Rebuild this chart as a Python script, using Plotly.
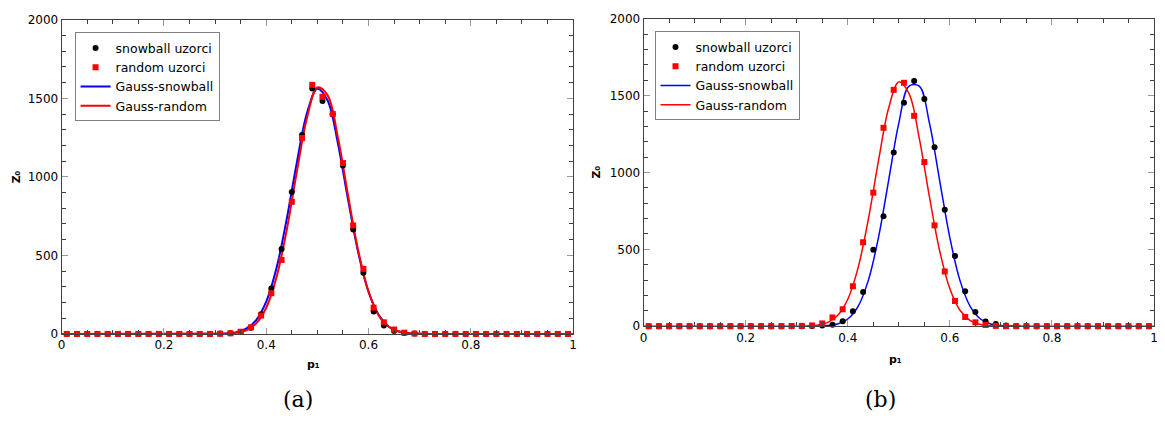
import plotly.graph_objects as go

# ---------------- data ----------------
p1 = [0.01, 0.03, 0.05, 0.07, 0.09, 0.11, 0.13, 0.15, 0.17, 0.19,
      0.21, 0.23, 0.25, 0.27, 0.29, 0.31, 0.33, 0.35, 0.37, 0.39,
      0.41, 0.43, 0.45, 0.47, 0.49, 0.51, 0.53, 0.55, 0.57, 0.59,
      0.61, 0.63, 0.65, 0.67, 0.69, 0.71, 0.73, 0.75, 0.77, 0.79,
      0.81, 0.83, 0.85, 0.87, 0.89, 0.91, 0.93, 0.95, 0.97, 0.99]

snow_a = [0, 0, 0, 0, 0, 0, 0, 0, 0, 0,
          0, 0, 0, 0, 0, 2, 5, 12, 39, 125,
          290, 541, 903, 1267, 1562, 1483, 1398, 1073, 665, 389,
          142, 54, 18, 6, 2, 0, 0, 0, 0, 0,
          0, 0, 0, 0, 0, 0, 0, 0, 0, 0]
rand_a = [0, 0, 0, 0, 0, 0, 0, 0, 0, 0,
          0, 0, 0, 0, 0, 1, 4, 14, 42, 117,
          259, 471, 841, 1247, 1586, 1510, 1401, 1088, 691, 414,
          167, 74, 28, 8, 2, 0, 0, 0, 0, 0,
          0, 0, 0, 0, 0, 0, 0, 0, 0, 0]
snow_b = [0, 0, 0, 0, 0, 0, 0, 0, 0, 0,
          0, 0, 0, 0, 0, 0, 2, 4, 10, 32,
          97, 222, 498, 715, 1131, 1454, 1595, 1479, 1165, 757,
          456, 228, 93, 31, 14, 4, 1, 0, 0, 0,
          0, 0, 0, 0, 0, 0, 0, 0, 0, 0]
rand_b = [0, 0, 0, 0, 0, 0, 0, 0, 0, 0,
          0, 0, 0, 0, 1, 2, 5, 18, 57, 110,
          260, 546, 869, 1291, 1538, 1584, 1369, 1068, 656, 356,
          164, 60, 25, 8, 2, 0, 0, 0, 0, 0,
          0, 0, 0, 0, 0, 0, 0, 0, 0, 0]

# fitted Gauss curves
fit_x = [0.0, 0.30, 0.32, 0.34, 0.36, 0.38, 0.40, 0.42, 0.44, 0.46, 0.48,
         0.50, 0.52, 0.54, 0.56, 0.58, 0.60, 0.62, 0.64, 0.66, 0.68,
         0.70, 0.72, 0.74, 1.0]
gs_a = [0, 0.6, 2.7, 10, 32, 87, 206, 418, 730, 1094, 1410,
        1561, 1486, 1216, 855, 517, 269, 120, 46, 15, 4,
        1, 0.2, 0, 0]
gr_a = [0, 0.3, 1.6, 6.4, 22, 66, 167, 360, 661, 1035, 1380,
        1569, 1519, 1254, 882, 528, 270, 117, 44, 14, 3.7,
        0.9, 0.2, 0, 0]
gs_b = [0, 0, 0.2, 0.9, 3.9, 14.7, 47, 128, 295, 575, 948,
        1322, 1562, 1562, 1322, 948, 575, 295, 128, 47, 14.7,
        3.9, 0.9, 0.2, 0]
gr_b = [0, 0.3, 1.6, 6.6, 23, 69, 175, 378, 691, 1074, 1418,
        1590, 1514, 1224, 841, 491, 243, 102, 37, 11, 2.9,
        0.7, 0.1, 0, 0]

x_ticks = [0, 0.2, 0.4, 0.6, 0.8, 1]
x_tick_text = ["0", "0.2", "0.4", "0.6", "0.8", "1"]
y_ticks = [0, 500, 1000, 1500, 2000]
y_tick_text = ["0", "500", "1000", "1500", "2000"]

names = ["snowball uzorci", "random uzorci", "Gauss-snowball", "Gauss-random"]

# ---------------- figure ----------------
fig = go.Figure()

panels = [
    dict(xa="x", ya="y", leg="legend", snow=snow_a, rand=rand_a, gs=gs_a, gr=gr_a, lw=2.0,
         bx=(0, 23)),
    dict(xa="x2", ya="y2", leg="legend2", snow=snow_b, rand=rand_b, gs=gs_b, gr=gr_b, lw=1.5,
         bx=(2, 24)),
]

for p in panels:
    b0, b1 = p["bx"]
    fig.add_trace(go.Scatter(x=fit_x[b0:b1], y=p["gs"][b0:b1], mode="lines", name=names[2],
                             line=dict(color="#0000ff", width=p["lw"], shape="spline", smoothing=1.0),
                             xaxis=p["xa"], yaxis=p["ya"], legend=p["leg"], legendrank=3,
                             cliponaxis=False))
    fig.add_trace(go.Scatter(x=fit_x, y=p["gr"], mode="lines", name=names[3],
                             line=dict(color="#ff0000", width=p["lw"], shape="spline", smoothing=1.0),
                             xaxis=p["xa"], yaxis=p["ya"], legend=p["leg"], legendrank=4,
                             cliponaxis=False))
    fig.add_trace(go.Scatter(x=p1, y=p["snow"], mode="markers", name=names[0],
                             marker=dict(symbol="circle", size=6, color="#000000"),
                             xaxis=p["xa"], yaxis=p["ya"], legend=p["leg"], legendrank=1,
                             cliponaxis=False))
    fig.add_trace(go.Scatter(x=p1, y=p["rand"], mode="markers", name=names[1],
                             marker=dict(symbol="square", size=6, color="#ff0000"),
                             xaxis=p["xa"], yaxis=p["ya"], legend=p["leg"], legendrank=2,
                             cliponaxis=False))

# page has an 8px body margin: figure is placed at (8, 8) in the 1165x425 window
OFF = 8
W, H = 1165 - OFF, 425 - OFF

def px_x(v):
    return (v - OFF) / W

def px_y(v):
    return (H - (v - OFF)) / H

tickfont = dict(family="DejaVu Sans", size=12, color="#000000")

def xaxis(dom, anchor):
    return dict(domain=dom, anchor=anchor, range=[0, 1], tickmode="array",
                tickvals=x_ticks, ticktext=x_tick_text, ticks="inside", ticklen=6,
                tickcolor="#999999", tickwidth=1, showline=True, linecolor="#404040",
                linewidth=1, mirror="ticks", showgrid=False, zeroline=False,
                tickfont=tickfont, ticklabeloverflow="allow",
                minor=dict(ticks="inside", ticklen=4, dtick=0.05, tickcolor="#404040",
                           showgrid=False))

def yaxis(dom, anchor):
    return dict(domain=dom, anchor=anchor, range=[0, 2000], tickmode="array",
                tickvals=y_ticks, ticktext=y_tick_text, ticks="inside", ticklen=6,
                tickcolor="#999999", tickwidth=1, showline=True, linecolor="#404040",
                linewidth=1, mirror="ticks", showgrid=False, zeroline=False,
                tickfont=tickfont, ticklabeloverflow="allow",
                minor=dict(ticks="inside", ticklen=4, dtick=100, tickcolor="#404040",
                           showgrid=False))

legend_style = dict(bgcolor="#ffffff", bordercolor="#808080", borderwidth=1,
                    font=dict(family="DejaVu Sans", size=12.5, color="#000000"),
                    xanchor="left", yanchor="top", traceorder="normal",
                    itemwidth=30, tracegroupgap=0)

fig.update_layout(
    width=W, height=H,
    margin=dict(l=0, r=0, t=0, b=0),
    paper_bgcolor="#ffffff", plot_bgcolor="#ffffff",
    showlegend=True,
    xaxis=xaxis([px_x(58), px_x(573)], "y"),
    yaxis=yaxis([px_y(338), px_y(13)], "x"),
    xaxis2=xaxis([px_x(644), px_x(1158)], "y2"),
    yaxis2=yaxis([px_y(330), px_y(12)], "x2"),
    legend=dict(x=px_x(71), y=px_y(26), **legend_style),
    legend2=dict(x=px_x(655), y=px_y(25), **legend_style),
)

ann_font = dict(family="DejaVu Sans", size=11, color="#000000")
annotations = [
    dict(text="<b>Z₀</b>", x=px_x(12), y=px_y(175), textangle=-90),
    dict(text="<b>Z₀</b>", x=px_x(597), y=px_y(170), textangle=-90),
    dict(text="<b>p₁</b>", x=px_x(312), y=px_y(370), textangle=0),
    dict(text="<b>p₁</b>", x=px_x(898), y=px_y(364), textangle=0),
]
for a in annotations:
    fig.add_annotation(xref="paper", yref="paper", showarrow=False, font=ann_font,
                       xanchor="center", yanchor="middle", **a)

for txt, xc in [("(a)", 296), ("(b)", 883)]:
    fig.add_annotation(text=txt, xref="paper", yref="paper", x=px_x(xc), y=px_y(406),
                       showarrow=False, xanchor="center", yanchor="middle",
                       font=dict(family="DejaVu Serif", size=22, color="#000000"))

fig.write_html("out.html")
